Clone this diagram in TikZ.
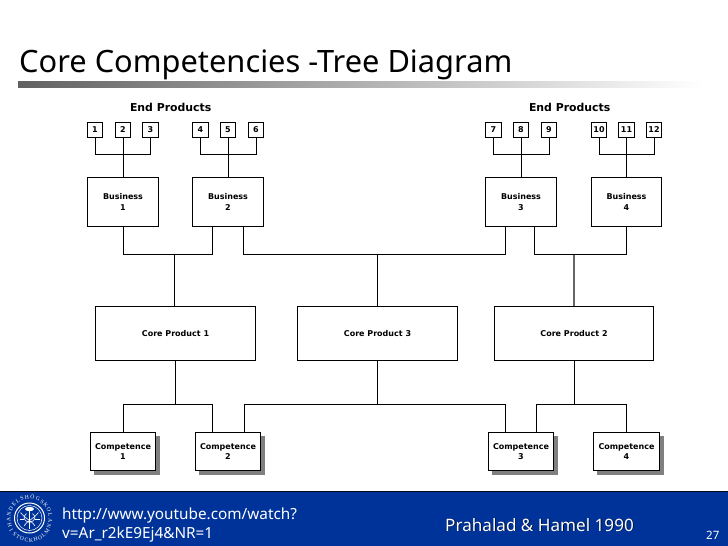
\documentclass[tikz,border=0pt]{standalone}
\usepackage{fontspec}
\setmainfont{DejaVu Sans}
\newfontfamily\titlefont{Noto Sans}
\newfontfamily\sealfont{Liberation Serif}
\usetikzlibrary{decorations.text}
\definecolor{footblue}{HTML}{003399}
\tikzset{
  x=1pt,y=-1pt,
  lbl/.style={font=\fontsize{8}{10.6}\selectfont\bfseries,align=center,text=black},
  biglbl/.style={font=\fontsize{10.9}{12}\selectfont\bfseries,align=center,text=black},
  boxline/.style={draw=black,line width=1pt,fill=white,inner sep=0pt},
  conn/.style={draw=black,line width=1pt},
  grayconn/.style={draw=black!60,line width=1.1pt},
  foottext/.style={text=white,anchor=base west,inner sep=0pt},
  shadowbox/.style={fill=black!50},
  sealline/.style={draw=white,line width=0.6pt},
}
\newcommand{\pxbox}[6]{% name, x0,y0,x1,y1, text
  \node[boxline,lbl,minimum width={#4-#2},minimum height={#5-#3}] (#1) at ({(#2+#4)/2},{(#3+#5)/2}) {#6};}
\newcommand{\logotxt}{\fontsize{5.6}{7}\sealfont\color{white}}
\begin{document}
\begin{tikzpicture}
\useasboundingbox (0,0) rectangle (728,546);
\fill[white] (0,0) rectangle (728,546);
% title and rule
\node[foottext,text=black,font=\titlefont\fontsize{30.8}{34}\selectfont] (title) at (19,72) {Core Competencies -Tree Diagram};
\shade[left color=black!62,right color=white] (18,81) rectangle (703,87);
% end products
\node[biglbl] (ep1) at (170.7,107.7) {End Products};
\node[biglbl] (ep2) at (569.7,107.7) {End Products};
\pxbox{p1}{87.3}{122.3}{102.7}{137.7}{\vphantom{0}1}
\pxbox{p2}{115.3}{122.3}{130.7}{137.7}{\vphantom{0}2}
\pxbox{p3}{142.3}{122.3}{158.7}{137.7}{\vphantom{0}3}
\pxbox{p4}{192.3}{122.3}{208.7}{137.7}{\vphantom{0}4}
\pxbox{p5}{220.3}{122.3}{235.7}{137.7}{\vphantom{0}5}
\pxbox{p6}{248.3}{122.3}{263.7}{137.7}{\vphantom{0}6}
\pxbox{p7}{485.3}{122.3}{501.3}{137.7}{\vphantom{0}7}
\pxbox{p8}{513.3}{122.3}{528.7}{137.7}{\vphantom{0}8}
\pxbox{p9}{541.3}{122.3}{556.7}{137.7}{\vphantom{0}9}
\pxbox{p10}{591.3}{122.3}{606.7}{137.7}{\vphantom{0}10}
\pxbox{p11}{618.3}{122.3}{634.7}{137.7}{\vphantom{0}11}
\pxbox{p12}{646.3}{122.3}{661.7}{137.7}{\vphantom{0}12}
\pxbox{b1}{87.3}{177.3}{158.7}{226.7}{Business\\1}
\pxbox{b2}{192.3}{177.3}{263.7}{226.7}{Business\\2}
\pxbox{b3}{485.3}{177.3}{556.7}{226.7}{Business\\3}
\pxbox{b4}{591.3}{177.3}{661.7}{226.7}{Business\\4}
\pxbox{cp1}{95.3}{306.3}{255.7}{360.3}{Core Product 1}
\pxbox{cp3}{297.3}{306.3}{457.7}{360.3}{Core Product 3}
\pxbox{cp2}{494.3}{306.3}{653.7}{360.3}{Core Product 2}
% shadows
\fill[shadowbox] (94.3,436.3) rectangle (159.7,474.7);
\fill[shadowbox] (199.3,436.3) rectangle (264.7,474.7);
\fill[shadowbox] (492.3,436.3) rectangle (557.7,474.7);
\fill[shadowbox] (597.3,436.3) rectangle (663.7,474.7);
\pxbox{c1}{90.3}{432.3}{155.7}{470.7}{Competence\\1}
\pxbox{c2}{195.3}{432.3}{260.7}{470.7}{Competence\\2}
\pxbox{c3}{488.3}{432.3}{553.7}{470.7}{Competence\\3}
\pxbox{c4}{593.3}{432.3}{659.7}{470.7}{Competence\\4}
% rails
\coordinate (r1) at (0,154.3);
\coordinate (r2) at (0,254.7);
\coordinate (r3) at (0,404.3);
% end product brackets
\draw[conn] (p1.south) |- (p3.south |- r1) -- (p3.south);
\draw[conn] (p2.south) -- (p2.south |- b1.north);
\draw[conn] (p4.south) |- (p6.south |- r1) -- (p6.south);
\draw[conn] (p5.south) -- (p5.south |- b2.north);
\draw[conn] (p7.south) |- (p9.south |- r1) -- (p9.south);
\draw[conn] (p8.south) -- (p8.south |- b3.north);
\draw[conn] (p10.south) |- (p12.south |- r1) -- (p12.south);
\draw[conn] (p11.south) -- (p11.south |- b4.north);
% business to core product
\coordinate (b2a) at (212.3,226.7);
\coordinate (b2b) at (243.3,226.7);
\coordinate (b3a) at (505.3,226.7);
\coordinate (b3b) at (534.7,226.7);
\coordinate (cp1t) at (174.3,306.3);
\coordinate (cp2t) at (574,306.3);
\draw[conn] (b1.south) |- (b2a |- r2) -- (b2a);
\draw[conn] (cp1t) -- (cp1t |- r2);
\draw[conn] (b2b) |- (b3a |- r2) -- (b3a);
\draw[conn] (cp3.north) -- (cp3.north |- r2);
\draw[conn] (b3b) |- (b4.south |- r2) -- (b4.south);
\draw[grayconn] (cp2t) -- (cp2t |- r2);
% core product to competence
\coordinate (c2a) at (212.3,432.3);
\coordinate (c2b) at (244.3,432.3);
\coordinate (c3a) at (505.3,432.3);
\coordinate (c3b) at (536.3,432.3);
\draw[conn] (c1.north) |- (c2a |- r3) -- (c2a);
\draw[conn] (cp1.south) -- (cp1.south |- r3);
\draw[conn] (c2b) |- (c3a |- r3) -- (c3a);
\draw[conn] (cp3.south) -- (cp3.south |- r3);
\draw[conn] (c3b) |- (c4.north |- r3) -- (c4.north);
\draw[conn] (cp2.south) -- (cp2.south |- r3);
% footer
\fill[footblue] (0,491.3) rectangle (728,546);
\draw[black!80!footblue,line width=0.8pt] (0,491.3) -- (728,491.3);
\node[foottext,font=\titlefont\fontsize{15.3}{18}\selectfont] (url1) at (62,519) {http://www.youtube.com/watch?};
\node[foottext,font=\titlefont\fontsize{15.3}{18}\selectfont] (url2) at (62,538) {v=Ar\_r2kE9Ej4\&NR=1};
\node[foottext,font=\titlefont\fontsize{17.1}{20}\selectfont,text=black!70!footblue] (citeshadow) at (445.8,531.8) {Prahalad \& Hamel 1990};
\node[foottext,font=\titlefont\fontsize{17.1}{20}\selectfont] (cite) at (445,531) {Prahalad \& Hamel 1990};
\node[foottext,font=\titlefont\fontsize{11.5}{14}\selectfont] (page) at (706,539) {27};
% seal
\begin{scope}[shift={(29.5,518)},y=1pt]
  \draw[sealline,line width=1pt] (0,0) circle (15);
  \draw[sealline,line width=0.5pt] (0,0) circle (12.5);
  \fill[white] (0,9) ellipse (4.5 and 2.2);
  \draw[sealline,line width=1.1pt] (0,10) -- (0,-10.5);
  \draw[sealline] (-9,5.5) .. controls (-4,-1) and (4,-4) .. (5.5,-8);
  \draw[sealline] (9,5.5) .. controls (4,-1) and (-4,-4) .. (-5.5,-8);
  \draw[sealline] (-3,4.5) .. controls (-7.5,1) and (-5.5,-3) .. (0,-4.5);
  \draw[sealline] (3,4.5) .. controls (7.5,1) and (5.5,-3) .. (0,-4.5);
  \draw[sealline] (-10,-1) -- (-5.5,-1) (5.5,-1) -- (10,-1);
  \path[postaction={decorate},decoration={text along path,text align={fit to path},text={|\logotxt|HANDELSHÖGSKOLAN}}] (205:19) arc[start angle=205,end angle=-28,radius=19];
  \path[postaction={decorate},decoration={text along path,text align={fit to path},text={|\logotxt|I STOCKHOLM}}] (212:24) arc[start angle=212,end angle=328,radius=24];
\end{scope}
\end{tikzpicture}
\end{document}
